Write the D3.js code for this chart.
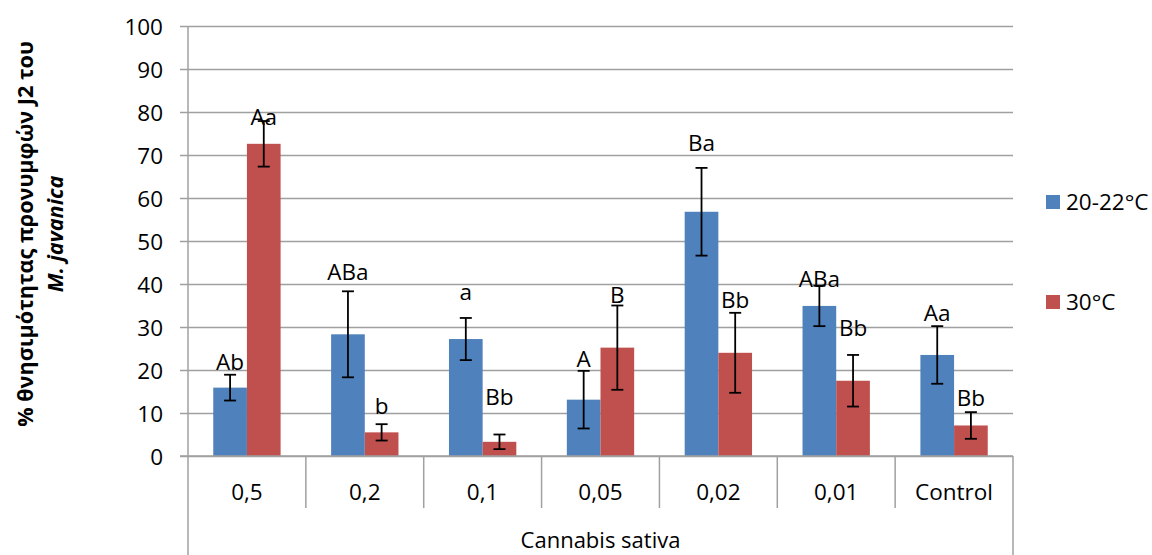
<!DOCTYPE html>
<html lang="el">
<head>
<meta charset="UTF-8">
<title>Cannabis sativa</title>
<script src="https://d3js.org/d3.v7.min.js"></script>
<style>
  body { margin: 0; background: #fff; }
  svg { display: block; font-family: "Open Sans", sans-serif; }
</style>
</head>
<body>
<div id="chart"></div>
<script>
// categories and series
const categories = ["0,5", "0,2", "0,1", "0,05", "0,02", "0,01", "Control"];
const seriesNames = ["20-22°C", "30°C"];
const colors = ["#4F81BD", "#C0504D"];

// % mortality
const cool = [15.9, 28.3, 27.2, 13.1, 56.8, 34.9, 23.5];
const warm = [72.6, 5.5, 3.3, 25.2, 24.0, 17.5, 7.1];
// error bar half widths
const coolErr = [3.0, 10.0, 4.9, 6.7, 10.2, 4.7, 6.7];
const warmErr = [5.3, 1.9, 1.7, 9.8, 9.3, 6.0, 3.1];
// significance letters and the value level where each one sits
const coolLetters = ["Ab", "ABa", "a", "A", "Ba", "ABa", "Aa"];
const warmLetters = ["Aa", "b", "Bb", "B", "Bb", "Bb", "Bb"];
const coolLetterAt = [21.9, 42.9, 38.1, 22.6, 72.7, 41.1, 33.2];
const warmLetterAt = [78.9, 11.6, 13.8, 37.4, 36.3, 29.8, 13.4];

const yTicks = [0, 10, 20, 30, 40, 50, 60, 70, 80, 90, 100];
const xTitle = "Cannabis sativa";
const yTitle1 = "% θνησιμότητας προνυμφών J2 του";
const yTitle2 = "M. javanica";

const width = 1152, height = 555;
const margin = { top: 26, right: 139, bottom: 99, left: 188 };
const plotW = width - margin.left - margin.right;
const plotH = height - margin.top - margin.bottom;

const svg = d3.select("#chart").append("svg")
    .attr("width", width)
    .attr("height", height);

const x = d3.scaleBand().domain(categories)
    .range([margin.left, margin.left + plotW])
    .paddingInner(0).paddingOuter(0);
const xs = d3.scaleBand().domain(seriesNames)
    .range([0, x.bandwidth()])
    .paddingInner(0).paddingOuter(0.75);
const y = d3.scaleLinear().domain([0, 100])
    .range([margin.top + plotH, margin.top]);

const grey = "#a0a0a0";

// gridlines + y ticks
const yAxis = d3.axisLeft(y).tickValues(yTicks)
    .tickSize(-(plotW + 8)).tickSizeOuter(0).tickPadding(17);
const gy = svg.append("g")
    .attr("transform", `translate(${margin.left - 8},0)`)
    .call(yAxis);
gy.select(".domain").remove();
gy.selectAll(".tick line").attr("stroke", grey).attr("stroke-width", 1.5);
gy.selectAll(".tick text")
    .attr("font-size", 22.5).attr("fill", "#000")
    .attr("font-family", "Open Sans").attr("dy", "0.36em");

// axis lines, category separators
const y0 = y(0);
svg.append("line")
    .attr("x1", margin.left).attr("x2", margin.left)
    .attr("y1", margin.top).attr("y2", height)
    .attr("stroke", grey).attr("stroke-width", 1.5);
svg.append("line")
    .attr("x1", margin.left + plotW).attr("x2", margin.left + plotW)
    .attr("y1", y0).attr("y2", height)
    .attr("stroke", grey).attr("stroke-width", 1.5);
svg.append("g").selectAll("line")
    .data(categories.slice(1))
    .join("line")
    .attr("x1", d => x(d)).attr("x2", d => x(d))
    .attr("y1", y0).attr("y2", y0 + 52)
    .attr("stroke", grey).attr("stroke-width", 1.5);

// bars
const rows = [];
categories.forEach((c, i) => {
    rows.push({ cat: c, s: 0, v: cool[i], e: coolErr[i], t: coolLetters[i], at: coolLetterAt[i] });
    rows.push({ cat: c, s: 1, v: warm[i], e: warmErr[i], t: warmLetters[i], at: warmLetterAt[i] });
});
const cx = d => x(d.cat) + xs(seriesNames[d.s]) + xs.bandwidth() / 2;

svg.append("g").selectAll("rect")
    .data(rows)
    .join("rect")
    .attr("x", d => x(d.cat) + xs(seriesNames[d.s]))
    .attr("y", d => y(d.v))
    .attr("width", xs.bandwidth())
    .attr("height", d => y0 - y(d.v))
    .attr("fill", d => colors[d.s]);

// x baseline drawn over bars
svg.append("line")
    .attr("x1", margin.left - 8).attr("x2", margin.left + plotW)
    .attr("y1", y0).attr("y2", y0)
    .attr("stroke", grey).attr("stroke-width", 1.5);

// error bars
const eb = svg.append("g").attr("stroke", "#000").attr("stroke-width", 1.8);
rows.forEach(d => {
    const c = cx(d), t = y(d.v + d.e), b = y(d.v - d.e);
    eb.append("line").attr("x1", c).attr("x2", c).attr("y1", t).attr("y2", b);
    eb.append("line").attr("x1", c - 6).attr("x2", c + 6).attr("y1", t).attr("y2", t);
    eb.append("line").attr("x1", c - 6).attr("x2", c + 6).attr("y1", b).attr("y2", b);
});

// letters
svg.append("g").selectAll("text")
    .data(rows)
    .join("text")
    .attr("x", cx)
    .attr("y", d => y(d.at))
    .attr("dy", "0.36em")
    .attr("text-anchor", "middle")
    .attr("font-size", 22.5)
    .text(d => d.t);

// category labels
svg.append("g").selectAll("text")
    .data(categories)
    .join("text")
    .attr("x", d => x(d) + x.bandwidth() / 2)
    .attr("y", y0 + 44)
    .attr("text-anchor", "middle")
    .attr("font-size", 22.5)
    .text(d => d);

svg.append("text")
    .attr("x", margin.left + plotW / 2)
    .attr("y", 548)
    .attr("text-anchor", "middle")
    .attr("font-size", 22)
    .text(xTitle);

// y title
const yt = svg.append("g").attr("transform", "translate(0,234) rotate(-90)");
yt.append("text")
    .attr("y", 33).attr("text-anchor", "middle")
    .attr("font-size", 21.6).attr("font-weight", "bold")
    .text(yTitle1);
yt.append("text")
    .attr("y", 63).attr("text-anchor", "middle")
    .attr("font-size", 21.6).attr("font-weight", "bold").attr("font-style", "italic")
    .text(yTitle2);

// legend
const lg = svg.append("g");
seriesNames.forEach((s, i) => {
    const ly = 202 + i * 100;
    lg.append("rect").attr("x", 1046).attr("y", ly - 7)
        .attr("width", 14).attr("height", 14).attr("fill", colors[i]);
    lg.append("text").attr("x", 1066).attr("y", ly).attr("dy", "0.36em")
        .attr("font-size", 22.5).text(s);
});
</script>
</body>
</html>
